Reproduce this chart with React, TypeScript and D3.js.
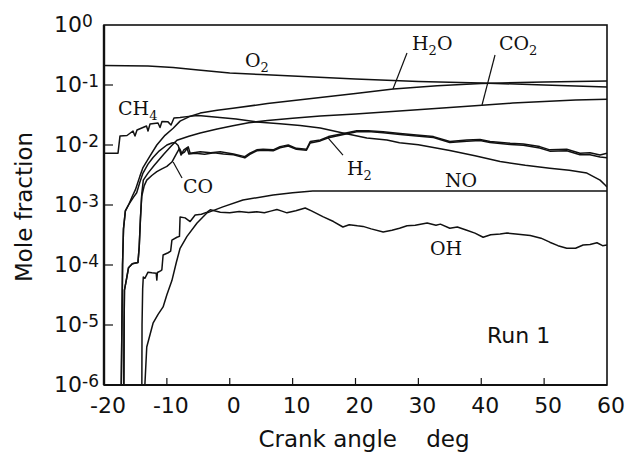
import React from 'react';
import * as d3 from 'd3';

type Pt = [number, number];

// Axis ticks
const X_TICKS = [-20, -10, 0, 10, 20, 30, 40, 50, 60];
const Y_EXPONENTS = [0, -1, -2, -3, -4, -5, -6];

// Mole fraction histories vs crank angle (deg)
const O2: Pt[] = [
  [-20, 0.211], [-13, 0.207], [-9, 0.195], [-5, 0.178], [0, 0.158], [5, 0.149], [10, 0.141],
  [20, 0.126], [30, 0.114], [40, 0.108], [50, 0.1], [60, 0.093],
];

const H2O: Pt[] = [
  [-17.25, 1e-6], [-17.15, 1e-5], [-17.05, 1e-4], [-16.9, 4e-4], [-16.6, 8e-4], [-16.0, 1.05e-3],
  [-15.5, 1.4e-3], [-15.0, 1.8e-3], [-14.3, 3.0e-3], [-13.8, 4.2e-3], [-12.7, 6.5e-3],
  [-11.6, 1.0e-2], [-10.3, 1.45e-2], [-9.0, 1.9e-2], [-7.9, 2.5e-2], [-6.5, 2.95e-2],
  [-4.7, 3.4e-2], [-2, 3.8e-2], [0.5, 4.1e-2], [6, 4.9e-2], [14.4, 6.2e-2], [20, 7.2e-2],
  [26, 8.6e-2], [33, 9.7e-2], [40, 0.106], [50, 0.112], [60, 0.117],
];

const CO2: Pt[] = [
  [-16.85, 1e-6], [-16.8, 1e-5], [-16.75, 3.8e-5], [-16.4, 6e-5], [-16.1, 9e-5], [-15.5, 1.05e-4],
  [-14.6, 1.1e-4], [-14.4, 2e-4], [-14.2, 6e-4], [-14.0, 1.5e-3], [-13.75, 2.6e-3], [-13.0, 3.4e-3],
  [-12.0, 4.6e-3], [-10.5, 7e-3], [-9.3, 9.6e-3], [-8.4, 1.2e-2], [-6.5, 1.4e-2], [-4.7, 1.58e-2],
  [-2, 1.85e-2], [0.5, 2.1e-2], [3, 2.35e-2], [6, 2.55e-2], [10, 2.8e-2], [14.4, 3.05e-2],
  [20, 3.3e-2], [28.7, 3.8e-2], [35, 4.2e-2], [40.1, 4.6e-2], [45, 5.0e-2], [50, 5.3e-2],
  [55, 5.6e-2], [60, 5.8e-2],
];

const CH4: Pt[] = [
  [-20, 0.0073], [-17.77, 0.0073], [-17.46, 0.0141], [-16.34, 0.0144], [-15.39, 0.0171],
  [-15.07, 0.0141], [-14.75, 0.0178], [-13.24, 0.0207], [-13.0, 0.0171], [-12.68, 0.0224],
  [-11.41, 0.0233], [-11.09, 0.0196], [-10.78, 0.0246], [-9.82, 0.0243], [-9.34, 0.0215],
  [-8.87, 0.0282], [-7.9, 0.0288], [-6.5, 0.030], [-5.0, 0.031], [-2, 0.029], [1, 0.027],
  [4.3, 0.0242], [8, 0.0225], [11.2, 0.0212], [14.4, 0.0192], [18.0, 0.0158], [21.8, 0.0131],
  [25, 0.0121], [27, 0.0109], [30, 0.0101], [35, 0.0081], [39, 0.0066], [43, 0.0053],
  [47, 0.0046], [50.9, 0.0041], [54, 0.0038], [56.8, 0.0034], [58.9, 0.0026], [59.7, 0.00215],
  [60, 0.002],
];

const CO: Pt[] = [
  [-16.85, 1e-6], [-16.8, 1e-5], [-16.75, 3.8e-5], [-16.4, 6e-5], [-16.1, 9e-5], [-15.5, 1.05e-4],
  [-14.6, 1.1e-4], [-14.4, 2e-4], [-14.2, 6e-4], [-14.0, 1.4e-3], [-13.6, 2.1e-3], [-13.2, 2.6e-3],
  [-12.4, 3.1e-3], [-11.6, 3.6e-3], [-10.8, 4.0e-3], [-10.0, 4.4e-3], [-9.2, 5.2e-3],
  [-8.6, 6.8e-3], [-8.0, 8.8e-3], [-7.6, 7.2e-3], [-7.2, 7.6e-3], [-6.8, 8.8e-3], [-6.5, 7.1e-3],
  [-5.5, 7.3e-3], [-4, 7.0e-3], [-2.5, 7.4e-3], [-1, 7.1e-3], [0.6, 6.9e-3], [2.4, 6.1e-3],
  [3.2, 7.0e-3], [4.3, 8.0e-3], [5.3, 8.2e-3], [6.9, 8.0e-3], [8.0, 9.0e-3], [9.3, 9.6e-3],
  [10.6, 8.5e-3], [12.2, 8.2e-3], [12.8, 1.08e-2], [14.4, 1.17e-2], [15.7, 1.32e-2],
  [18.1, 1.5e-2], [20.2, 1.66e-2], [22, 1.68e-2], [24.4, 1.6e-2], [27.1, 1.5e-2],
  [29.7, 1.41e-2], [32.4, 1.33e-2], [35, 1.1e-2], [37.7, 1.16e-2], [39.8, 1.19e-2],
  [41.4, 1.1e-2], [44.6, 1.02e-2], [46.7, 9.9e-3], [49.3, 8.9e-3], [50.9, 7.9e-3],
  [53.6, 8.0e-3], [55.7, 6.9e-3], [57.3, 6.9e-3], [58.9, 6.3e-3], [60, 6.1e-3],
];

const H2: Pt[] = [
  [-17.25, 1e-6], [-17.15, 1e-5], [-17.05, 1e-4], [-16.9, 4e-4], [-16.6, 8e-4], [-16.0, 1.05e-3],
  [-15.3, 1.35e-3], [-14.8, 1.6e-3], [-14.3, 2.4e-3], [-13.8, 3.4e-3], [-13.0, 4.8e-3],
  [-12.2, 6.2e-3], [-11.2, 8.0e-3], [-10.0, 1.0e-2], [-9.2, 1.08e-2], [-8.7, 1.1e-2],
  [-8.2, 9.8e-3], [-7.75, 6.8e-3], [-7.3, 8.3e-3], [-6.6, 9.3e-3], [-6.3, 7.3e-3],
  [-4.7, 7.7e-3], [-3, 7.4e-3], [-1.5, 7.7e-3], [0.6, 7.1e-3], [2.4, 6.4e-3], [3.2, 7.3e-3],
  [4.3, 8.3e-3], [5.3, 8.5e-3], [6.9, 8.3e-3], [8.0, 9.4e-3], [9.3, 1.0e-2], [10.6, 8.8e-3],
  [12.2, 8.5e-3], [12.8, 1.14e-2], [14.4, 1.21e-2], [15.7, 1.38e-2], [18.1, 1.56e-2],
  [20.2, 1.73e-2], [22, 1.72e-2], [24.4, 1.67e-2], [27.1, 1.56e-2], [29.7, 1.47e-2],
  [32.4, 1.38e-2], [35, 1.14e-2], [37.7, 1.21e-2], [39.8, 1.24e-2], [41.4, 1.14e-2],
  [44.6, 1.07e-2], [46.7, 1.04e-2], [49.3, 9.4e-3], [50.9, 8.3e-3], [53.6, 8.5e-3],
  [55.7, 7.3e-3], [57.3, 7.4e-3], [58.9, 6.8e-3], [60, 7.3e-3],
];

const NO: Pt[] = [
  [-13.5, 1e-6], [-13.2, 4.3e-6], [-12.2, 1.07e-5], [-11.4, 1.5e-5], [-10.6, 2e-5],
  [-10.0, 3.2e-5], [-9.2, 5.5e-5], [-8.5, 1.1e-4], [-7.9, 1.9e-4], [-6.8, 3.0e-4],
  [-5.2, 5.0e-4], [-3.6, 7.4e-4], [-1.1, 9.3e-4], [2.1, 1.21e-3], [6.9, 1.47e-3],
  [10, 1.6e-3], [13.2, 1.71e-3], [30, 1.71e-3], [45, 1.71e-3], [60, 1.71e-3],
];

const OH: Pt[] = [
  [-13.98, 1e-6], [-13.95, 1e-5], [-13.85, 4e-5], [-13.75, 6.3e-5], [-13.5, 6e-5], [-13.0, 7.6e-5],
  [-12.4, 7.4e-5], [-11.7, 7.3e-5], [-11.6, 5.6e-5], [-11.5, 7.5e-5], [-11.0, 8.0e-5],
  [-10.8, 8.3e-5], [-10.6, 1.47e-4], [-9.8, 1.6e-4], [-9.4, 1.7e-4], [-9.2, 2.6e-4],
  [-8.4, 2.9e-4], [-8.0, 3.0e-4], [-7.9, 6.3e-4], [-7.1, 6.1e-4], [-6.3, 5.3e-4], [-5.5, 6.8e-4],
  [-4.5, 7.0e-4], [-3.6, 7.6e-4], [-3.1, 8.3e-4], [-1.5, 7.6e-4], [0.0, 7.4e-4], [1.5, 7.8e-4],
  [3.0, 7.5e-4], [4.3, 7.7e-4], [5.5, 7.4e-4], [6.5, 7.9e-4], [7.5, 8.4e-4], [8.3, 7.9e-4],
  [9.1, 7.4e-4], [10.5, 8.0e-4], [12.0, 8.9e-4], [13.0, 8.0e-4], [14.8, 6.4e-4], [16.5, 5.3e-4],
  [18.0, 4.3e-4], [19.0, 4.7e-4], [20.3, 4.5e-4], [21.2, 4.4e-4], [22.5, 4.0e-4], [24.4, 3.55e-4],
  [25.8, 3.8e-4], [27, 4.1e-4], [28.2, 4.5e-4], [29.5, 4.6e-4], [31.4, 5.0e-4], [32.8, 4.6e-4],
  [33.5, 4.8e-4], [35.0, 4.1e-4], [36.2, 4.3e-4], [37.7, 3.8e-4], [39.0, 3.4e-4], [40.3, 2.9e-4],
  [41.5, 3.2e-4], [43.0, 3.3e-4], [44.1, 3.4e-4], [45.5, 3.3e-4], [47.8, 3.1e-4], [49.5, 2.8e-4],
  [50.9, 2.4e-4], [52.2, 2.1e-4], [53.6, 1.9e-4], [55.0, 1.9e-4], [56.2, 2.15e-4], [57.3, 2.2e-4],
  [58.4, 2.35e-4], [59.3, 2.1e-4], [60, 2.15e-4],
];

const SERIES: Pt[][] = [O2, H2O, CO2, CH4, CO, H2, NO, OH];

// Species labels: [text, subscript, trailing text, angle, mole fraction]
const LABELS: [string, string, string, number, number][] = [
  ['O', '2', '', 2.43, 0.2],
  ['H', '2', 'O', 28.99, 0.383],
  ['CO', '2', '', 42.82, 0.383],
  ['CH', '4', '', -17.77, 0.0316],
  ['CO', '', '', -7.44, 0.00158],
  ['H', '2', '', 18.65, 0.00316],
  ['NO', '', '', 34.23, 0.002],
  ['OH', '', '', 31.85, 1.47e-4],
];

// Leader lines from label to curve: [angle1, frac1, angle2, frac2]
const LEADERS: [number, number, number, number][] = [
  [28.19, 0.341, 25.96, 0.0858],
  [42.19, 0.316, 40.12, 0.0464],
  [15.63, 0.0131, 18.01, 0.0068],
  [-9.0, 0.0052, -7.59, 0.00282],
];

const RUN_LABEL: [string, number, number] = ['Run 1', 40.91, 5e-6];

const W = 629;
const H = 452;
const M = { left: 104, right: 607, top: 25, bottom: 385 };

export default function App() {
  const x = d3.scaleLinear().domain([-20, 60]).range([M.left, M.right]);
  const y = d3.scaleLog().domain([1e-6, 1]).range([M.bottom, M.top]);
  const line = d3
    .line<Pt>()
    .x((d) => x(d[0]))
    .y((d) => y(d[1]));

  const sans = 'DejaVu Sans, Liberation Sans, Arial, sans-serif';
  const serif = 'DejaVu Serif, Liberation Serif, Times New Roman, serif';

  return (
    <svg
      width={W}
      height={H}
      viewBox={`0 0 ${W} ${H}`}
      style={{ position: 'absolute', left: 0, top: 0, background: '#fff' }}
    >
      <defs>
        <clipPath id="plot-clip">
          <rect x={M.left} y={M.top - 1} width={M.right - M.left} height={M.bottom - M.top + 1} />
        </clipPath>
      </defs>
      <rect x={0} y={0} width={W} height={H} fill="#fff" />

      {/* curves */}
      <g clipPath="url(#plot-clip)" fill="none" stroke="#111" strokeWidth={1.5} strokeLinejoin="round">
        {SERIES.map((s, i) => (
          <path key={i} d={line(s) || ''} />
        ))}
      </g>

      {/* frame */}
      <rect
        x={M.left}
        y={M.top}
        width={M.right - M.left}
        height={M.bottom - M.top}
        fill="none"
        stroke="#111"
        strokeWidth={1.6}
      />
      <line x1={M.left} x2={M.left} y1={M.top} y2={M.bottom} stroke="#111" strokeWidth={2.4} />
      <line x1={M.left} x2={M.right} y1={M.bottom} y2={M.bottom} stroke="#111" strokeWidth={2} />

      {/* y ticks and labels */}
      {Y_EXPONENTS.map((e) => {
        const yy = y(Math.pow(10, e));
        return (
          <g key={e}>
            {e !== 0 && e !== -6 && (
              <line x1={M.left} x2={M.left + 9} y1={yy} y2={yy} stroke="#111" strokeWidth={1.2} />
            )}
            <text x={54} y={yy + 7} fontFamily={sans} fontSize={22} fill="#111">
              10
              <tspan fontSize={17} dy={-5}>
                {e === 0 ? '0' : `-${-e}`}
              </tspan>
            </text>
          </g>
        );
      })}

      {/* x ticks and labels */}
      {X_TICKS.map((t) => {
        const xx = x(t);
        return (
          <g key={t}>
            {t > -20 && t < 60 && (
              <line x1={xx} x2={xx} y1={M.bottom} y2={M.bottom - 7} stroke="#111" strokeWidth={1.2} />
            )}
            <text x={xx + 4} y={413} textAnchor="middle" fontFamily={sans} fontSize={22} fill="#111">
              {t < 0 ? `-${-t}` : `${t}`}
            </text>
          </g>
        );
      })}

      {/* axis titles */}
      <text
        transform={`translate(32, 207) rotate(-90)`}
        textAnchor="middle"
        fontFamily={sans}
        fontSize={23}
        fill="#111"
      >
        Mole fraction
      </text>
      <text
        x={364}
        y={447}
        textAnchor="middle"
        fontFamily={sans}
        fontSize={23}
        fill="#111"
        style={{ whiteSpace: 'pre' }}
      >
        {'Crank angle    deg'}
      </text>

      {/* leaders */}
      <g stroke="#111" strokeWidth={1.2}>
        {LEADERS.map((l, i) => (
          <line key={i} x1={x(l[0])} y1={y(l[1])} x2={x(l[2])} y2={y(l[3])} />
        ))}
      </g>

      {/* species labels */}
      {LABELS.map(([a, sub, b, ax, ay], i) => (
        <text key={i} x={x(ax)} y={y(ay)} fontFamily={serif} fontSize={19} fill="#111">
          {a}
          {sub && (
            <tspan fontSize={13} dy={5}>
              {sub}
            </tspan>
          )}
          {b && <tspan dy={-5}>{b}</tspan>}
        </text>
      ))}

      <text x={x(RUN_LABEL[1])} y={y(RUN_LABEL[2])} fontFamily={sans} fontSize={22} fill="#111">
        {RUN_LABEL[0]}
      </text>
    </svg>
  );
}
